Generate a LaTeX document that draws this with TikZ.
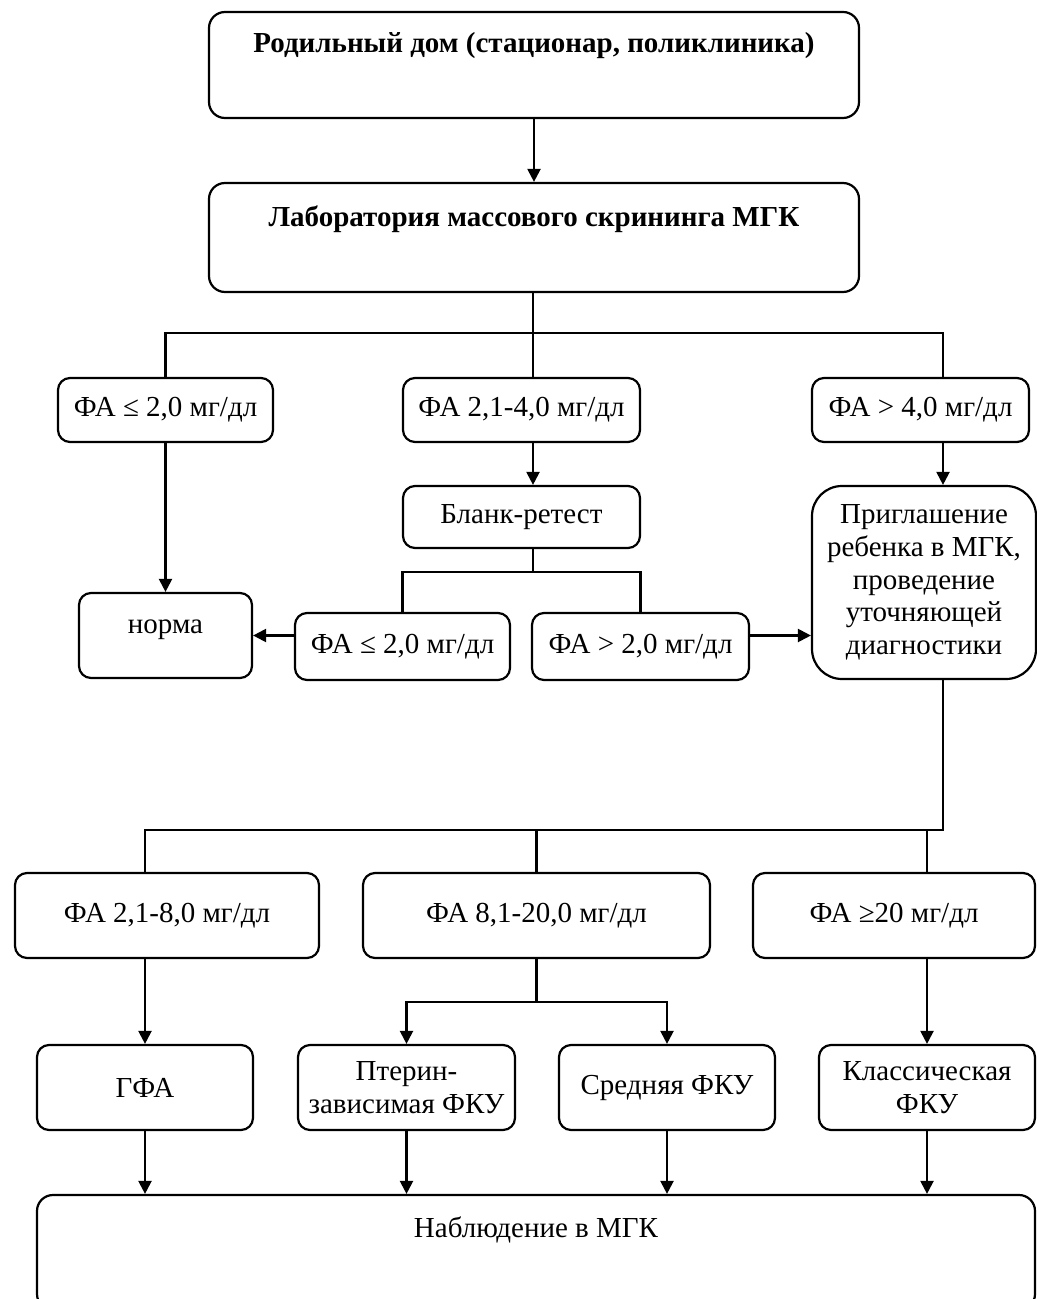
\documentclass[tikz,border=0pt]{standalone}
\usepackage{fontspec}
\setmainfont{Liberation Serif}
\usetikzlibrary{arrows.meta,positioning,calc}

\newcommand{\boxfont}{\fontsize{14.5pt}{16.4pt}\selectfont}

\begin{document}
\begin{tikzpicture}[x=0.5pt, y=-0.5pt,
    box/.style={draw, line width=1.1pt, rounded corners=6pt, inner sep=0pt, align=center, font=\boxfont},
    boldbox/.style={box, rounded corners=8pt, font=\boxfont\bfseries},
    conn/.style={line width=1.1pt},
    arr/.style={conn, -{Triangle[length=6.5pt, width=6.5pt]}}]
    \clip (0,0) rectangle (1037,1299);

    % Top boxes
    \node[boldbox, minimum width=325pt, text height=20.5pt, text depth=32.5pt] (roddom) at (534,65) {Родильный дом (стационар, поликлиника)};
    \node[boldbox, minimum width=325pt, text height=22pt, text depth=32.5pt] (lab) at (534,237.5) {Лаборатория массового скрининга МГК};

    % Screening results
    \node[box, minimum width=107.5pt, minimum height=32pt] (fa1) at (165.5,410) {ФА ≤ 2,0 мг/дл};
    \node[box, minimum width=118.5pt, minimum height=32pt] (fa2) at (521.5,410) {ФА 2,1-4,0 мг/дл};
    \node[box, minimum width=108.5pt, minimum height=32pt] (fa3) at (920.5,410) {ФА > 4,0 мг/дл};
    \node[box, minimum width=118.5pt, minimum height=31pt] (blank) at (521.5,517) {Бланк-ретест};
    \node[box, minimum width=107.5pt, minimum height=33.5pt] (fa4) at (402.5,646.5) {ФА ≤ 2,0 мг/дл};
    \node[box, minimum width=108.5pt, minimum height=33.5pt] (fa5) at (640.5,646.5) {ФА > 2,0 мг/дл};
    \node[box, minimum width=86.5pt, text height=20pt, text depth=22.5pt] (norma) at (165.5,635.5) {норма};
    \node[box, rounded corners=15pt, minimum width=112pt, minimum height=96.5pt] (invite) at (924,582.5) {Приглашение\\ребенка в МГК,\\проведение\\уточняющей\\диагностики};

    % Diagnostics
    \node[box, minimum width=152pt, minimum height=42.5pt] (fb1) at (167,915.5) {ФА 2,1-8,0 мг/дл};
    \node[box, minimum width=173.5pt, minimum height=42.5pt] (fb2) at (536.5,915.5) {ФА 8,1-20,0 мг/дл};
    \node[box, minimum width=141pt, minimum height=42.5pt] (fb3) at (894,915.5) {ФА ≥20 мг/дл};

    \node[box, minimum width=108pt, minimum height=42.5pt] (gfa) at (145,1087.5) {ГФА};
    \node[box, minimum width=108.5pt, minimum height=42.5pt] (pterin) at (406.5,1087.5) {Птерин-\\зависимая ФКУ};
    \node[box, minimum width=108pt, minimum height=42.5pt] (sredn) at (667,1087.5) {Средняя ФКУ};
    \node[box, minimum width=108pt, minimum height=42.5pt] (klass) at (927,1087.5) {Классическая\\ФКУ};

    \node[box, rounded corners=8pt, minimum width=499pt, text height=21pt, text depth=36.5pt] (nabl) at (536,1252.5) {Наблюдение в МГК};

    % Bus points
    \coordinate (bus1) at (533,333);
    \coordinate (bus1r) at (943,333);
    \coordinate (bus2) at (533,572);
    \coordinate (bus3) at (943,830);
    \coordinate (bus4) at (536.5,1002);

    % Connectors
    \draw[arr] (roddom) -- (lab);
    \draw[conn] (lab.south -| bus1) -- (bus1);
    \draw[conn] (fa1.north) |- (bus1r) -- (fa3.north -| bus1r);
    \draw[conn] (bus1) -- (fa2.north -| bus1);
    \draw[arr] (fa2.south -| bus1) -- (blank.north -| bus1);
    \draw[arr] (fa3.south -| bus1r) -- (invite.north -| bus1r);
    \draw[conn] (blank.south -| bus2) -- (bus2);
    \draw[conn] (fa4.north) |- (bus2) -| (fa5.north);
    \draw[arr] (fa1) -- (norma);
    \draw[arr] (fa4.west |- norma.east) -- (norma.east);
    \draw[arr] (fa5.east |- norma.east) -- (invite.west |- norma.east);

    \draw[conn] (invite.south -| bus3) -- (bus3) -- (bus3 -| gfa) -- (gfa |- fb1.north);
    \draw[conn] (fb2.north) -- (fb2.north |- bus3);
    \draw[conn] (fb3.north -| klass) -- (klass |- bus3);
    \draw[arr] (fb1.south -| gfa) -- (gfa);
    \draw[arr] (fb3.south -| klass) -- (klass);
    \draw[conn] (fb2.south) -- (bus4);
    \draw[arr] (bus4) -| (pterin.north);
    \draw[arr] (bus4) -| (sredn.north);
    \foreach \n in {gfa,pterin,sredn,klass}
        \draw[arr] (\n.south) -- (\n.south |- nabl.north);
\end{tikzpicture}
\end{document}
